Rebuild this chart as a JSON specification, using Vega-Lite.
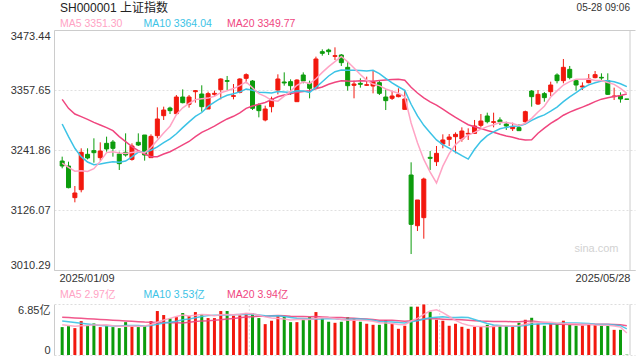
{
"$schema": "https://vega.github.io/schema/vega-lite/v6.json",
"width": 581, "height": 325,
"autosize": {"type": "none"},
"padding": {"left": 54, "top": 30, "right": 5, "bottom": 5},
"background": "white",
"config": {"view": {"stroke": null}, "font": "Liberation Sans, Noto Sans CJK SC, sans-serif"},
"datasets": {"k": [
{"i":0,"o":3220.6,"h":3229.0,"l":3206.5,"c":3211.0,"v":3.77,"m5":3216.5,"m10":3292.0,"m20":3339.6,"a5":4.1,"a10":4.6,"a20":5.1},
{"i":1,"o":3211.0,"h":3219.3,"l":3167.9,"c":3169.2,"v":3.90,"m5":3208.5,"m10":3267.6,"m20":3322.3,"a5":4.0,"a10":4.5,"a20":5.05},
{"i":2,"o":3149.9,"h":3172.4,"l":3140.9,"c":3158.9,"v":3.63,"m5":3201.0,"m10":3245.1,"m20":3311.3,"a5":3.9,"a10":4.4,"a20":5.0},
{"i":3,"o":3165.3,"h":3245.1,"l":3160.2,"c":3237.4,"v":4.58,"m5":3202.0,"m10":3229.0,"m20":3306.2,"a5":3.95,"a10":4.3,"a20":4.95},
{"i":4,"o":3233.5,"h":3245.1,"l":3223.8,"c":3226.4,"v":3.99,"m5":3200.6,"m10":3218.7,"m20":3301.0,"a5":3.97,"a10":4.2,"a20":4.9},
{"i":5,"o":3240.6,"h":3264.4,"l":3217.4,"c":3236.7,"v":4.26,"m5":3205.7,"m10":3213.5,"m20":3295.2,"a5":4.07,"a10":4.1,"a20":4.85},
{"i":6,"o":3227.1,"h":3256.7,"l":3221.3,"c":3239.9,"v":3.77,"m5":3219.9,"m10":3214.8,"m20":3290.1,"a5":4.05,"a10":4.0,"a20":4.8},
{"i":7,"o":3254.7,"h":3267.6,"l":3238.6,"c":3243.8,"v":3.90,"m5":3236.8,"m10":3217.4,"m20":3285.0,"a5":4.10,"a10":3.95,"a20":4.75},
{"i":8,"o":3257.3,"h":3261.2,"l":3229.0,"c":3245.1,"v":3.77,"m5":3238.4,"m10":3219.3,"m20":3279.2,"a5":3.94,"a10":3.93,"a20":4.7},
{"i":9,"o":3234.1,"h":3238.6,"l":3203.3,"c":3215.5,"v":3.63,"m5":3236.2,"m10":3218.4,"m20":3267.6,"a5":3.87,"a10":3.92,"a20":4.65},
{"i":10,"o":3237.4,"h":3274.0,"l":3229.0,"c":3232.2,"v":4.44,"m5":3235.3,"m10":3220.5,"m20":3257.9,"a5":3.90,"a10":3.99,"a20":4.6},
{"i":11,"o":3223.8,"h":3254.7,"l":3221.3,"c":3249.6,"v":3.90,"m5":3237.2,"m10":3228.6,"m20":3248.3,"a5":3.93,"a10":3.99,"a20":4.55},
{"i":12,"o":3256.7,"h":3274.0,"l":3249.6,"c":3251.5,"v":3.77,"m5":3238.8,"m10":3237.8,"m20":3240.6,"a5":3.90,"a10":4.00,"a20":4.5},
{"i":13,"o":3270.8,"h":3270.8,"l":3221.3,"c":3232.2,"v":3.90,"m5":3236.2,"m10":3237.3,"m20":3234.1,"a5":3.93,"a10":3.93,"a20":4.45},
{"i":14,"o":3227.1,"h":3272.1,"l":3227.1,"c":3268.2,"v":4.58,"m5":3246.7,"m10":3241.5,"m20":3229.0,"a5":4.12,"a10":3.99,"a20":4.42},
{"i":15,"o":3269.5,"h":3324.2,"l":3264.4,"c":3301.7,"v":5.94,"m5":3260.6,"m10":3248.0,"m20":3229.0,"a5":4.42,"a10":4.16,"a20":4.40},
{"i":16,"o":3308.1,"h":3325.5,"l":3299.8,"c":3319.0,"v":5.40,"m5":3274.5,"m10":3255.9,"m20":3234.1,"a5":4.72,"a10":4.32,"a20":4.38},
{"i":17,"o":3322.9,"h":3325.5,"l":3311.3,"c":3317.8,"v":4.94,"m5":3287.8,"m10":3263.3,"m20":3238.6,"a5":4.95,"a10":4.43,"a20":4.36},
{"i":18,"o":3312.0,"h":3348.0,"l":3312.0,"c":3344.1,"v":5.12,"m5":3310.2,"m10":3273.2,"m20":3245.1,"a5":5.20,"a10":4.56,"a20":4.35},
{"i":19,"o":3344.1,"h":3358.9,"l":3331.9,"c":3333.2,"v":5.67,"m5":3323.2,"m10":3285.0,"m20":3251.7,"a5":5.41,"a10":4.77,"a20":4.34},
{"i":20,"o":3330.0,"h":3348.0,"l":3323.6,"c":3344.1,"v":5.26,"m5":3331.6,"m10":3296.1,"m20":3258.3,"a5":5.28,"a10":4.85,"a20":4.42},
{"i":21,"o":3354.4,"h":3357.6,"l":3333.2,"c":3356.4,"v":5.80,"m5":3339.1,"m10":3306.8,"m20":3267.7,"a5":5.36,"a10":5.04,"a20":4.51},
{"i":22,"o":3349.9,"h":3366.7,"l":3315.8,"c":3325.5,"v":5.49,"m5":3340.7,"m10":3314.2,"m20":3276.0,"a5":5.47,"a10":5.21,"a20":4.61},
{"i":23,"o":3321.0,"h":3354.4,"l":3321.0,"c":3350.6,"v":4.99,"m5":3342.0,"m10":3326.1,"m20":3281.7,"a5":5.44,"a10":5.32,"a20":4.63},
{"i":24,"o":3349.3,"h":3356.4,"l":3344.8,"c":3351.2,"v":4.99,"m5":3345.6,"m10":3334.4,"m20":3287.9,"a5":5.31,"a10":5.36,"a20":4.68},
{"i":25,"o":3358.3,"h":3380.2,"l":3339.6,"c":3378.9,"v":5.94,"m5":3352.5,"m10":3342.1,"m20":3295.0,"a5":5.44,"a10":5.36,"a20":4.76},
{"i":26,"o":3375.7,"h":3384.7,"l":3357.6,"c":3374.4,"v":5.94,"m5":3356.1,"m10":3347.6,"m20":3301.8,"a5":5.47,"a10":5.41,"a20":4.87},
{"i":27,"o":3345.4,"h":3369.2,"l":3339.6,"c":3346.7,"v":5.31,"m5":3360.4,"m10":3350.5,"m20":3306.9,"a5":5.43,"a10":5.45,"a20":4.94},
{"i":28,"o":3353.1,"h":3380.2,"l":3351.2,"c":3378.9,"v":5.35,"m5":3366.0,"m10":3354.0,"m20":3313.6,"a5":5.51,"a10":5.47,"a20":5.02},
{"i":29,"o":3380.2,"h":3389.8,"l":3370.5,"c":3387.2,"v":5.62,"m5":3373.2,"m10":3359.4,"m20":3322.2,"a5":5.63,"a10":5.47,"a20":5.12},
{"i":30,"o":3375.0,"h":3376.9,"l":3319.0,"c":3322.3,"v":5.62,"m5":3361.9,"m10":3357.2,"m20":3326.7,"a5":5.57,"a10":5.51,"a20":5.18},
{"i":31,"o":3328.7,"h":3331.9,"l":3304.9,"c":3317.8,"v":4.99,"m5":3350.6,"m10":3353.4,"m20":3330.1,"a5":5.38,"a10":5.42,"a20":5.23},
{"i":32,"o":3299.8,"h":3327.4,"l":3297.2,"c":3321.0,"v":4.17,"m5":3345.4,"m10":3352.9,"m20":3333.6,"a5":5.15,"a10":5.29,"a20":5.25},
{"i":33,"o":3325.5,"h":3344.8,"l":3314.5,"c":3340.3,"v":4.63,"m5":3337.7,"m10":3351.9,"m20":3339.0,"a5":5.01,"a10":5.26,"a20":5.29},
{"i":34,"o":3357.6,"h":3387.9,"l":3349.3,"c":3378.9,"v":5.31,"m5":3336.1,"m10":3354.6,"m20":3344.5,"a5":4.94,"a10":5.29,"a20":5.32},
{"i":35,"o":3373.1,"h":3391.7,"l":3366.0,"c":3371.2,"v":5.17,"m5":3345.8,"m10":3353.9,"m20":3348.0,"a5":4.85,"a10":5.21,"a20":5.29},
{"i":36,"o":3373.7,"h":3378.2,"l":3348.0,"c":3366.0,"v":4.44,"m5":3355.5,"m10":3353.0,"m20":3350.3,"a5":4.74,"a10":5.06,"a20":5.24},
{"i":37,"o":3335.1,"h":3378.2,"l":3335.1,"c":3376.9,"v":4.44,"m5":3366.7,"m10":3356.1,"m20":3353.3,"a5":4.80,"a10":4.97,"a20":5.21},
{"i":38,"o":3386.6,"h":3391.7,"l":3370.5,"c":3375.0,"v":4.81,"m5":3373.6,"m10":3355.7,"m20":3354.8,"a5":4.83,"a10":4.92,"a20":5.20},
{"i":39,"o":3370.5,"h":3375.7,"l":3341.6,"c":3360.9,"v":5.12,"m5":3370.0,"m10":3353.0,"m20":3356.2,"a5":4.80,"a10":4.87,"a20":5.17},
{"i":40,"o":3362.2,"h":3422.0,"l":3362.2,"c":3417.5,"v":5.80,"m5":3379.3,"m10":3362.6,"m20":3359.9,"a5":4.92,"a10":4.89,"a20":5.20},
{"i":41,"o":3431.6,"h":3436.1,"l":3423.9,"c":3428.4,"v":4.94,"m5":3391.7,"m10":3373.6,"m20":3363.5,"a5":5.02,"a10":4.88,"a20":5.15},
{"i":42,"o":3434.8,"h":3437.4,"l":3425.2,"c":3431.6,"v":4.49,"m5":3402.7,"m10":3384.7,"m20":3368.8,"a5":5.03,"a10":4.92,"a20":5.10},
{"i":43,"o":3422.6,"h":3440.0,"l":3415.5,"c":3423.9,"v":4.35,"m5":3412.5,"m10":3393.0,"m20":3372.5,"a5":4.94,"a10":4.89,"a20":5.07},
{"i":44,"o":3425.2,"h":3427.1,"l":3404.0,"c":3410.4,"v":4.49,"m5":3422.4,"m10":3396.2,"m20":3375.4,"a5":4.81,"a10":4.81,"a20":5.05},
{"i":45,"o":3401.4,"h":3412.3,"l":3356.4,"c":3366.0,"v":5.12,"m5":3412.1,"m10":3395.7,"m20":3374.8,"a5":4.68,"a10":4.80,"a20":5.01},
{"i":46,"o":3366.7,"h":3375.7,"l":3341.6,"c":3369.2,"v":4.94,"m5":3400.2,"m10":3396.0,"m20":3374.5,"a5":4.68,"a10":4.85,"a20":4.96},
{"i":47,"o":3370.5,"h":3380.2,"l":3362.2,"c":3368.6,"v":4.49,"m5":3387.6,"m10":3395.2,"m20":3375.6,"a5":4.68,"a10":4.86,"a20":4.91},
{"i":48,"o":3366.7,"h":3383.4,"l":3365.4,"c":3367.9,"v":4.22,"m5":3376.4,"m10":3394.4,"m20":3375.1,"a5":4.65,"a10":4.80,"a20":4.86},
{"i":49,"o":3365.4,"h":3395.0,"l":3351.2,"c":3373.7,"v":4.08,"m5":3369.1,"m10":3395.7,"m20":3374.4,"a5":4.57,"a10":4.69,"a20":4.78},
{"i":50,"o":3371.8,"h":3375.7,"l":3348.0,"c":3351.2,"v":4.08,"m5":3366.1,"m10":3389.1,"m20":3375.8,"a5":4.36,"a10":4.52,"a20":4.70},
{"i":51,"o":3344.1,"h":3358.9,"l":3319.0,"c":3337.1,"v":4.72,"m5":3359.7,"m10":3380.0,"m20":3376.8,"a5":4.32,"a10":4.50,"a20":4.69},
{"i":52,"o":3341.6,"h":3356.4,"l":3338.4,"c":3346.1,"v":4.22,"m5":3355.2,"m10":3371.4,"m20":3378.0,"a5":4.26,"a10":4.47,"a20":4.69},
{"i":53,"o":3344.8,"h":3360.9,"l":3343.5,"c":3348.6,"v":3.54,"m5":3351.3,"m10":3363.9,"m20":3378.5,"a5":4.13,"a10":4.39,"a20":4.64},
{"i":54,"o":3320.3,"h":3357.6,"l":3320.3,"c":3340.3,"v":3.95,"m5":3344.7,"m10":3356.9,"m20":3376.5,"a5":4.10,"a10":4.34,"a20":4.57},
{"i":55,"o":3193.6,"h":3218.1,"l":3041.1,"c":3098.4,"v":6.53,"m5":3294.1,"m10":3330.1,"m20":3362.9,"a5":4.59,"a10":4.48,"a20":4.64},
{"i":56,"o":3095.8,"h":3145.4,"l":3085.5,"c":3145.4,"v":6.53,"m5":3255.8,"m10":3307.7,"m20":3351.9,"a5":4.95,"a10":4.64,"a20":4.74},
{"i":57,"o":3111.3,"h":3188.5,"l":3070.7,"c":3185.9,"v":6.83,"m5":3223.7,"m10":3289.5,"m20":3342.3,"a5":5.48,"a10":4.87,"a20":4.86},
{"i":58,"o":3227.7,"h":3239.9,"l":3203.3,"c":3225.8,"v":5.85,"m5":3199.2,"m10":3275.3,"m20":3334.8,"a5":5.94,"a10":5.03,"a20":4.91},
{"i":59,"o":3219.3,"h":3249.6,"l":3211.0,"c":3235.4,"v":4.76,"m5":3178.2,"m10":3261.4,"m20":3328.6,"a5":6.10,"a10":5.10,"a20":4.90},
{"i":60,"o":3253.4,"h":3272.1,"l":3245.1,"c":3261.2,"v":4.63,"m5":3210.7,"m10":3252.4,"m20":3320.8,"a5":5.72,"a10":5.16,"a20":4.84},
{"i":61,"o":3262.4,"h":3272.7,"l":3249.6,"c":3266.9,"v":3.95,"m5":3235.0,"m10":3245.4,"m20":3312.7,"a5":5.20,"a10":5.08,"a20":4.79},
{"i":62,"o":3267.6,"h":3275.9,"l":3235.4,"c":3272.1,"v":4.22,"m5":3252.3,"m10":3238.0,"m20":3304.7,"a5":4.68,"a10":5.08,"a20":4.78},
{"i":63,"o":3263.1,"h":3285.6,"l":3257.9,"c":3278.5,"v":3.81,"m5":3262.8,"m10":3231.0,"m20":3297.4,"a5":4.27,"a10":5.11,"a20":4.75},
{"i":64,"o":3272.7,"h":3283.7,"l":3261.2,"c":3274.0,"v":3.54,"m5":3270.5,"m10":3224.4,"m20":3290.6,"a5":4.03,"a10":5.07,"a20":4.70},
{"i":65,"o":3274.0,"h":3299.8,"l":3272.7,"c":3288.2,"v":3.81,"m5":3275.9,"m10":3243.3,"m20":3286.7,"a5":3.87,"a10":4.79,"a20":4.64},
{"i":66,"o":3289.5,"h":3311.3,"l":3285.6,"c":3297.8,"v":3.81,"m5":3282.1,"m10":3258.6,"m20":3283.2,"a5":3.84,"a10":4.52,"a20":4.58},
{"i":67,"o":3307.5,"h":3313.9,"l":3293.3,"c":3296.5,"v":4.08,"m5":3287.0,"m10":3269.6,"m20":3279.6,"a5":3.81,"a10":4.25,"a20":4.56},
{"i":68,"o":3295.2,"h":3313.9,"l":3285.6,"c":3296.5,"v":3.95,"m5":3290.6,"m10":3276.7,"m20":3276.0,"a5":3.84,"a10":4.06,"a20":4.54},
{"i":69,"o":3299.8,"h":3304.9,"l":3290.1,"c":3295.9,"v":3.95,"m5":3295.0,"m10":3282.8,"m20":3272.1,"a5":3.92,"a10":3.98,"a20":4.54},
{"i":70,"o":3292.0,"h":3296.5,"l":3280.5,"c":3288.2,"v":3.95,"m5":3295.0,"m10":3285.5,"m20":3268.9,"a5":3.95,"a10":3.91,"a20":4.53},
{"i":71,"o":3283.0,"h":3294.6,"l":3278.5,"c":3286.9,"v":3.81,"m5":3292.8,"m10":3287.5,"m20":3266.4,"a5":3.95,"a10":3.89,"a20":4.49},
{"i":72,"o":3285.0,"h":3292.0,"l":3279.2,"c":3279.2,"v":4.35,"m5":3289.3,"m10":3288.2,"m20":3263.1,"a5":4.00,"a10":3.91,"a20":4.49},
{"i":73,"o":3296.5,"h":3317.8,"l":3292.0,"c":3315.8,"v":4.76,"m5":3293.2,"m10":3291.9,"m20":3261.4,"a5":4.16,"a10":4.00,"a20":4.55},
{"i":74,"o":3355.7,"h":3357.6,"l":3325.5,"c":3344.8,"v":5.03,"m5":3303.0,"m10":3299.0,"m20":3261.7,"a5":4.38,"a10":4.15,"a20":4.61},
{"i":75,"o":3330.6,"h":3357.6,"l":3328.7,"c":3349.3,"v":4.22,"m5":3315.2,"m10":3305.1,"m20":3274.2,"a5":4.43,"a10":4.19,"a20":4.49},
{"i":76,"o":3350.6,"h":3353.8,"l":3335.1,"c":3342.9,"v":3.95,"m5":3326.4,"m10":3309.6,"m20":3284.1,"a5":4.46,"a10":4.21,"a20":4.36},
{"i":77,"o":3354.4,"h":3373.7,"l":3346.1,"c":3367.3,"v":4.22,"m5":3344.0,"m10":3316.7,"m20":3293.2,"a5":4.44,"a10":4.22,"a20":4.23},
{"i":78,"o":3386.6,"h":3389.8,"l":3370.5,"c":3375.7,"v":4.22,"m5":3356.0,"m10":3324.6,"m20":3300.7,"a5":4.33,"a10":4.25,"a20":4.15},
{"i":79,"o":3375.7,"h":3417.5,"l":3370.5,"c":3401.4,"v":4.63,"m5":3367.3,"m10":3335.2,"m20":3309.0,"a5":4.25,"a10":4.31,"a20":4.14},
{"i":80,"o":3397.5,"h":3404.0,"l":3378.2,"c":3381.5,"v":4.08,"m5":3373.8,"m10":3344.5,"m20":3315.0,"a5":4.22,"a10":4.33,"a20":4.12},
{"i":81,"o":3375.7,"h":3378.2,"l":3356.4,"c":3367.3,"v":3.95,"m5":3378.6,"m10":3352.5,"m20":3320.0,"a5":4.22,"a10":4.34,"a20":4.12},
{"i":82,"o":3363.4,"h":3372.4,"l":3357.6,"c":3365.4,"v":3.95,"m5":3378.3,"m10":3361.1,"m20":3324.7,"a5":4.17,"a10":4.30,"a20":4.10},
{"i":83,"o":3371.8,"h":3388.5,"l":3370.5,"c":3378.9,"v":4.13,"m5":3378.9,"m10":3367.5,"m20":3329.7,"a5":4.15,"a10":4.24,"a20":4.12},
{"i":84,"o":3381.5,"h":3394.3,"l":3380.2,"c":3387.2,"v":4.13,"m5":3376.1,"m10":3371.7,"m20":3335.3,"a5":4.05,"a10":4.15,"a20":4.15},
{"i":85,"o":3382.1,"h":3389.8,"l":3376.9,"c":3380.8,"v":3.95,"m5":3375.9,"m10":3374.8,"m20":3340.0,"a5":4.02,"a10":4.12,"a20":4.16},
{"i":86,"o":3375.7,"h":3389.8,"l":3348.0,"c":3349.3,"v":3.95,"m5":3372.3,"m10":3375.5,"m20":3342.5,"a5":4.02,"a10":4.12,"a20":4.16},
{"i":87,"o":3344.8,"h":3362.2,"l":3338.4,"c":3346.1,"v":3.40,"m5":3368.5,"m10":3373.4,"m20":3345.0,"a5":3.91,"a10":4.04,"a20":4.13},
{"i":88,"o":3346.7,"h":3353.1,"l":3333.2,"c":3340.3,"v":3.40,"m5":3360.7,"m10":3369.8,"m20":3347.2,"a5":3.77,"a10":3.96,"a20":4.10},
{"i":89,"o":3340.3,"h":3340.3,"l":3339.7,"c":3339.7,"v":0.05,"m5":3351.3,"m10":3364.04,"m20":3349.77,"a5":2.97,"a10":3.53,"a20":3.94}
]},
"layer": [
{"layer": [
 {"data": {"name": "k"}, "mark": {"type": "rule", "strokeWidth": 1},
  "encoding": {
   "x": {"field": "i", "type": "quantitative", "scale": {"domain": [-0.5, 89.5], "nice": false, "zero": false},
     "axis": {"title": null, "orient": "bottom", "offset": -85, "values": [-0.5, 89.5], "labelExpr": "datum.value < 0 ? '2025/01/09' : '2025/05/28'", "labelAlign": {"condition": {"test": "datum.value < 0", "value": "left"}, "value": "right"}, "labelBaseline": "top", "labelPadding": 2, "ticks": false, "grid": false, "domain": true, "domainColor": "#cccccc", "labelFontSize": 11, "labelColor": "#333333", "labelFlush": false, "labelOverlap": false}},
   "y": {"field": "l", "type": "quantitative", "scale": {"domain": [3010.29, 3473.44], "range": [240, 0], "nice": false, "zero": false},
     "axis": {"title": null, "orient": "left", "values": [3010.29, 3126.07, 3241.86, 3357.65, 3473.44], "format": ".2f", "ticks": false, "labelPadding": 4, "labelFontSize": 11, "labelColor": "#333333", "domain": true, "domainColor": "#cccccc", "grid": true,
       "gridColor": {"condition": {"test": "datum.value > 3470 || datum.value < 3015", "value": "#cccccc"}, "value": "#e0e0e0"},
       "gridDash": {"condition": {"test": "datum.value > 3470 || datum.value < 3015", "value": []}, "value": [2, 2]},
       "labelBaseline": {"condition": [{"test": "datum.value > 3470", "value": "top"}, {"test": "datum.value < 3015", "value": "bottom"}], "value": "middle"},
       "labelOverlap": false, "labelFlush": false}},
   "y2": {"field": "h"},
   "color": {"condition": {"test": "datum.c >= datum.o", "value": "#f2180e"}, "value": "#0c9c0c"}
  }},
 {"data": {"name": "k"}, "mark": {"type": "bar", "size": 4, "orient": "vertical", "strokeWidth": 1},
  "encoding": {
   "x": {"field": "i", "type": "quantitative"},
   "y": {"field": "o", "type": "quantitative"},
   "y2": {"field": "c"},
   "color": {"condition": {"test": "datum.c >= datum.o", "value": "#f2180e"}, "value": "#0c9c0c"},
   "stroke": {"condition": {"test": "datum.c >= datum.o", "value": "#f2180e"}, "value": "#0c9c0c"}
  }},
 {"data": {"name": "k"}, "mark": {"type": "line", "color": "#f0467f", "strokeWidth": 1.5},
  "encoding": {"x": {"field": "i", "type": "quantitative"}, "y": {"field": "m20", "type": "quantitative"}}},
 {"data": {"name": "k"}, "mark": {"type": "line", "color": "#3cc3e6", "strokeWidth": 1.5},
  "encoding": {"x": {"field": "i", "type": "quantitative"}, "y": {"field": "m10", "type": "quantitative"}}},
 {"data": {"name": "k"}, "mark": {"type": "line", "color": "#ffa3c4", "strokeWidth": 1.5},
  "encoding": {"x": {"field": "i", "type": "quantitative"}, "y": {"field": "m5", "type": "quantitative"}}},
 {"data": {"values": [{}]}, "mark": {"type": "rule", "color": "#cccccc", "strokeWidth": 1},
  "encoding": {"x": {"datum": 89.5, "type": "quantitative"}, "y": {"datum": 3010.29, "type": "quantitative"}, "y2": {"datum": 3473.44}}},
 {"data": {"values": [{"t": "SH000001 上证指数"}]}, "mark": {"type": "text", "align": "left", "baseline": "middle", "fontSize": 12, "color": "#222222"},
  "encoding": {"x": {"datum": -0.345, "type": "quantitative"}, "y": {"datum": 3515.9, "type": "quantitative"}, "text": {"field": "t"}}},
 {"data": {"values": [{"t": "05-28 09:06"}]}, "mark": {"type": "text", "align": "right", "baseline": "middle", "fontSize": 10, "color": "#333333"},
  "encoding": {"x": {"datum": 89.5, "type": "quantitative"}, "y": {"datum": 3515.9, "type": "quantitative"}, "text": {"field": "t"}}},
 {"data": {"values": [{"t": "MA5 3351.30"}]}, "mark": {"type": "text", "align": "left", "baseline": "middle", "fontSize": 10.5, "color": "#ffa3c4"},
  "encoding": {"x": {"datum": -0.345, "type": "quantitative"}, "y": {"datum": 3485.0, "type": "quantitative"}, "text": {"field": "t"}}},
 {"data": {"values": [{"t": "MA10 3364.04"}]}, "mark": {"type": "text", "align": "left", "baseline": "middle", "fontSize": 10.5, "color": "#3cc3e6"},
  "encoding": {"x": {"datum": 12.82, "type": "quantitative"}, "y": {"datum": 3485.0, "type": "quantitative"}, "text": {"field": "t"}}},
 {"data": {"values": [{"t": "MA20 3349.77"}]}, "mark": {"type": "text", "align": "left", "baseline": "middle", "fontSize": 10.5, "color": "#f0467f"},
  "encoding": {"x": {"datum": 25.99, "type": "quantitative"}, "y": {"datum": 3485.0, "type": "quantitative"}, "text": {"field": "t"}}},
 {"data": {"values": [{"t": "MA5 2.97亿"}]}, "mark": {"type": "text", "align": "left", "baseline": "middle", "fontSize": 10.5, "color": "#ffa3c4"},
  "encoding": {"x": {"datum": -0.345, "type": "quantitative"}, "y": {"datum": 2962.05, "type": "quantitative"}, "text": {"field": "t"}}},
 {"data": {"values": [{"t": "MA10 3.53亿"}]}, "mark": {"type": "text", "align": "left", "baseline": "middle", "fontSize": 10.5, "color": "#3cc3e6"},
  "encoding": {"x": {"datum": 12.82, "type": "quantitative"}, "y": {"datum": 2962.05, "type": "quantitative"}, "text": {"field": "t"}}},
 {"data": {"values": [{"t": "MA20 3.94亿"}]}, "mark": {"type": "text", "align": "left", "baseline": "middle", "fontSize": 10.5, "color": "#f0467f"},
  "encoding": {"x": {"datum": 25.99, "type": "quantitative"}, "y": {"datum": 2962.05, "type": "quantitative"}, "text": {"field": "t"}}},
 {"data": {"values": [{"t": "sina.com"}]}, "mark": {"type": "text", "align": "right", "baseline": "middle", "fontSize": 11, "color": "#d2d2d2"},
  "encoding": {"x": {"datum": 87.69, "type": "quantitative"}, "y": {"datum": 3050.8, "type": "quantitative"}, "text": {"field": "t"}}}
]},
{"layer": [
 {"data": {"values": [{}]}, "mark": {"type": "rule", "color": "#dddddd", "strokeWidth": 1, "strokeDash": [2, 2]},
  "encoding": {"x": {"datum": 29.5, "type": "quantitative"}, "y": {"datum": 0, "type": "quantitative"}, "y2": {"datum": 6.85}}},
 {"data": {"values": [{}]}, "mark": {"type": "rule", "color": "#dddddd", "strokeWidth": 1, "strokeDash": [2, 2]},
  "encoding": {"x": {"datum": 59.5, "type": "quantitative"}, "y": {"datum": 0, "type": "quantitative"}, "y2": {"datum": 6.85}}},
 {"data": {"name": "k"}, "mark": {"type": "bar", "size": 3, "orient": "vertical"},
  "encoding": {
   "x": {"field": "i", "type": "quantitative"},
   "y": {"field": "v", "type": "quantitative", "scale": {"domain": [0, 6.85], "range": [325, 274.3], "nice": false},
     "axis": {"title": null, "orient": "left", "values": [0, 6.85], "labelExpr": "datum.value == 0 ? '0' : '6.85亿'", "ticks": false, "labelPadding": 4, "labelFontSize": 11, "labelColor": "#333333", "domain": true, "domainColor": "#cccccc", "grid": true, "gridColor": "#dddddd", "gridDash": [2, 2],
       "labelBaseline": {"condition": {"test": "datum.value > 1", "value": "top"}, "value": "bottom"}, "labelOverlap": false, "labelFlush": false}},
   "color": {"condition": {"test": "datum.c >= datum.o", "value": "#f2180e"}, "value": "#0c9c0c"}
  }},
 {"data": {"name": "k"}, "mark": {"type": "line", "color": "#f0467f", "strokeWidth": 1.5, "opacity": 0.9},
  "encoding": {"x": {"field": "i", "type": "quantitative"}, "y": {"field": "a20", "type": "quantitative"}}},
 {"data": {"name": "k"}, "mark": {"type": "line", "color": "#3cc3e6", "strokeWidth": 1.5, "opacity": 0.9},
  "encoding": {"x": {"field": "i", "type": "quantitative"}, "y": {"field": "a10", "type": "quantitative"}}},
 {"data": {"name": "k"}, "mark": {"type": "line", "color": "#ffa3c4", "strokeWidth": 1.5, "opacity": 0.9},
  "encoding": {"x": {"field": "i", "type": "quantitative"}, "y": {"field": "a5", "type": "quantitative"}}},
 {"data": {"values": [{}]}, "mark": {"type": "rule", "color": "#cccccc", "strokeWidth": 1},
  "encoding": {"x": {"datum": 89.5, "type": "quantitative"}, "y": {"datum": 0, "type": "quantitative"}, "y2": {"datum": 6.85}}}
]}
],
"resolve": {"scale": {"y": "independent"}}
}
